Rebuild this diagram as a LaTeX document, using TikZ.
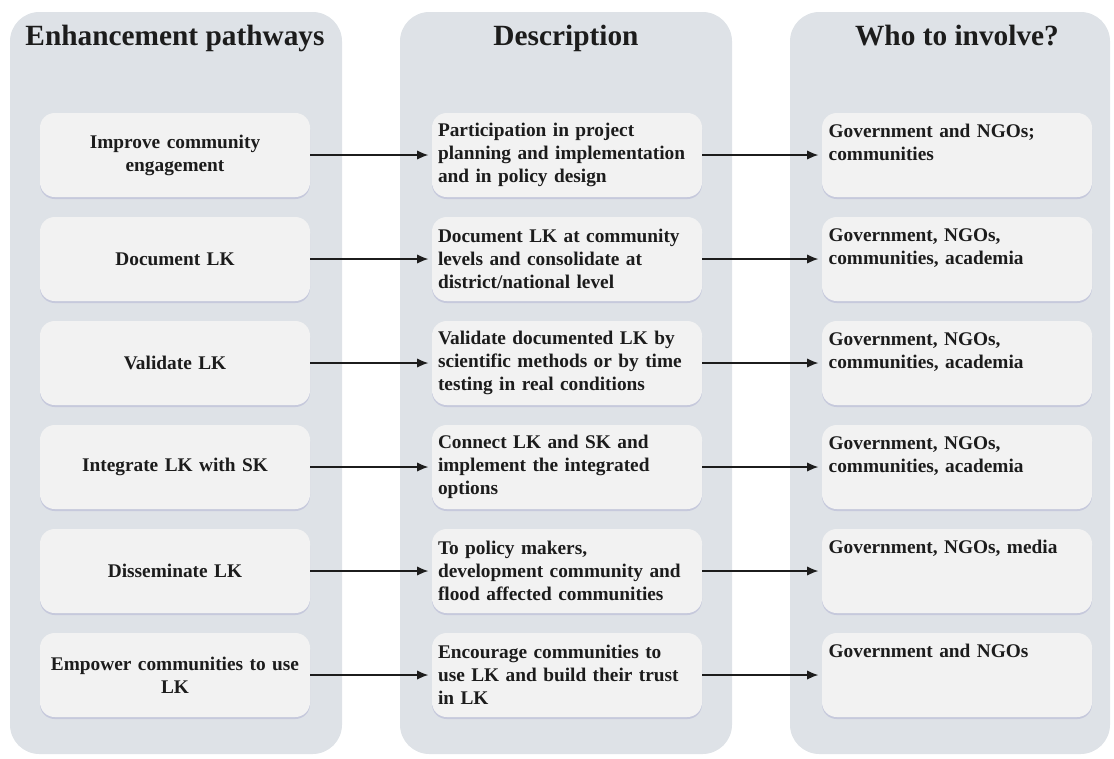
\documentclass[tikz,border=0pt]{standalone}
\usepackage{fontspec}
\setmainfont{Liberation Serif}
\usetikzlibrary{arrows.meta, shadows}
\definecolor{panelgray}{RGB}{222,226,231}
\definecolor{boxgray}{RGB}{242,242,242}
\definecolor{inkblack}{RGB}{28,28,28}

\begin{document}
\begin{tikzpicture}[
  x=0.75pt, y=-0.75pt,
  >={Latex[length=8.5pt, width=7pt]},
  font=\bfseries\fontsize{14.5}{17.3}\selectfont,
  text=inkblack,
  panel/.style={fill=panelgray, rounded corners=22pt},
  heading/.style={anchor=base, font=\bfseries\fontsize{22}{26}\selectfont},
  rowbox/.style={fill=boxgray, rounded corners=11pt,
    minimum width=202.5pt, minimum height=63pt,
    inner xsep=4.5pt, text width=193.5pt,
    drop shadow={shadow xshift=0pt, shadow yshift=-1.5pt,
      opacity=0.35, fill=blue!30!gray!60}},
  pathbox/.style={rowbox, align=center},
  descbox/.style={rowbox, align=left},
  whobox/.style={rowbox, align=left, inner xsep=5pt, text width=192.5pt,
    inner ysep=8pt, text height=10pt, text depth=37pt},
  link/.style={->, line width=1.1pt, draw=inkblack, shorten >=2.5pt},
  ]
  \def\Xa{175}
  \def\Xb{567}
  \def\Xc{957}
  \def\Ybase{45.5}

  \useasboundingbox (0,0) rectangle (1114,758);

  % Column panels
  \fill[panel] (10,12) rectangle (342,754);
  \fill[panel] (400,12) rectangle (732,754);
  \fill[panel] (790,12) rectangle (1110,754);

  % Headings
  \node[heading] (headPath) at (175,\Ybase) {Enhancement pathways};
  \node[heading] (headDesc) at (566,\Ybase) {Description};
  \node[heading] (headWho) at (957,\Ybase) {Who to involve?};

  % Enhancement pathways
  \node[pathbox] (path1) at (\Xa,155) {Improve community\\engagement};
  \node[pathbox] (path2) at (\Xa,259) {Document LK};
  \node[pathbox] (path3) at (\Xa,363) {Validate LK};
  \node[pathbox] (path4) at (\Xa,467) {Integrate LK with SK};
  \node[pathbox] (path5) at (\Xa,571) {Disseminate LK};
  \node[pathbox] (path6) at (\Xa,675) {Empower communities to use\\LK};

  % Description
  \node[descbox] (desc1) at (\Xb,155) {Participation in project\\planning and implementation\\and in policy design};
  \node[descbox] (desc2) at (\Xb,259) {Document LK at community\\levels and consolidate at\\district/national level};
  \node[descbox] (desc3) at (\Xb,363) {Validate documented LK by\\scientific methods or by time\\testing in real conditions};
  \node[descbox] (desc4) at (\Xb,467) {Connect LK and SK and\\implement the integrated\\options};
  \node[descbox] (desc5) at (\Xb,571) {To policy makers,\\development community and\\flood affected communities};
  \node[descbox] (desc6) at (\Xb,675) {Encourage communities to\\use LK and build their trust\\in LK};

  % Who to involve
  \node[whobox] (who1) at (\Xc,155) {Government and NGOs;\\communities};
  \node[whobox] (who2) at (\Xc,259) {Government, NGOs,\\communities, academia};
  \node[whobox] (who3) at (\Xc,363) {Government, NGOs,\\communities, academia};
  \node[whobox] (who4) at (\Xc,467) {Government, NGOs,\\communities, academia};
  \node[whobox] (who5) at (\Xc,571) {Government, NGOs, media};
  \node[whobox] (who6) at (\Xc,675) {Government and NGOs};

  % Links
  \foreach \i in {1,...,6} {
    \draw[link] (path\i) -- (desc\i);
    \draw[link] (desc\i) -- (who\i);
  }
\end{tikzpicture}
\end{document}
